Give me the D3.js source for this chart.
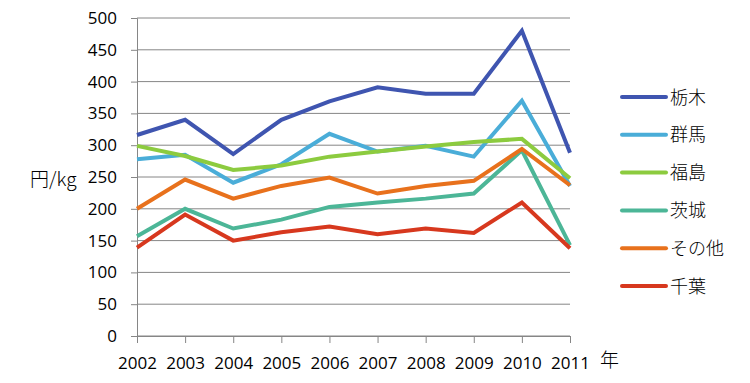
<!DOCTYPE html>
<html>
<head>
<meta charset="utf-8">
<script src="https://cdn.jsdelivr.net/npm/d3@7"></script>
<style>
  body { margin: 0; background: #fff; }
  text { font-family: "Open Sans", sans-serif; fill: #000; }
  .jp { font-family: "Noto Sans CJK JP", sans-serif; font-weight: 300; }
</style>
</head>
<body>
<div id="chart"></div>
<script>
const years = [2002, 2003, 2004, 2005, 2006, 2007, 2008, 2009, 2010, 2011];
const names = ["栃木", "群馬", "福島", "茨城", "その他", "千葉"];
const colors = ["#3F55B0", "#4AADD8", "#8CCB3F", "#4CB697", "#E8711C", "#D7381E"];
const tochigi = [316, 340, 286, 340, 369, 391, 381, 381, 480, 288];
const gunma = [278, 285, 241, 270, 318, 290, 299, 282, 370, 236];
const fukushima = [299, 283, 261, 268, 282, 290, 298, 305, 310, 248];
const ibaraki = [157, 200, 169, 183, 203, 210, 216, 224, 292, 143];
const sonota = [200, 246, 216, 236, 249, 224, 236, 244, 294, 237];
const chiba = [139, 191, 150, 163, 172, 160, 169, 162, 210, 138];
const yTicks = [0, 50, 100, 150, 200, 250, 300, 350, 400, 450, 500];

const series = [tochigi, gunma, fukushima, ibaraki, sonota, chiba];

const w = 750, h = 383;
const margin = { top: 18, right: 180, bottom: 47, left: 137 };

const svg = d3.select("#chart").append("svg")
    .attr("width", w)
    .attr("height", h);

const x = d3.scaleLinear()
    .domain([2002, 2011])
    .range([margin.left, w - margin.right]);

const y = d3.scaleLinear()
    .domain([0, 500])
    .range([h - margin.bottom, margin.top]);

// gridlines
svg.append("g")
    .selectAll("line")
    .data(yTicks)
    .enter().append("line")
    .attr("x1", margin.left)
    .attr("x2", w - margin.right)
    .attr("y1", d => y(d))
    .attr("y2", d => y(d))
    .attr("stroke", "#868686")
    .attr("stroke-width", 1);

// y axis
const yAxis = svg.append("g")
    .attr("transform", `translate(${margin.left},0)`)
    .call(d3.axisLeft(y).tickValues(yTicks).tickSize(6).tickPadding(14));
yAxis.select(".domain").attr("stroke", "#868686");
yAxis.selectAll("line").attr("stroke", "#868686");
yAxis.selectAll("text").style("font-size", "17px").attr("font-family", null);

// x axis
const xAxis = svg.append("g")
    .attr("transform", `translate(0,${y(0)})`)
    .call(d3.axisBottom(x).tickValues(years).tickFormat(d3.format("d")).tickSize(7).tickPadding(14));
xAxis.select(".domain").attr("stroke", "#868686");
xAxis.selectAll("line").attr("stroke", "#868686");
xAxis.selectAll("text").style("font-size", "17px").attr("font-family", null);

// lines
const line = d3.line()
    .x((d, i) => x(years[i]))
    .y(d => y(d));

svg.append("g")
    .selectAll("path")
    .data(series)
    .enter().append("path")
    .attr("d", d => line(d))
    .attr("fill", "none")
    .attr("stroke", (d, i) => colors[i])
    .attr("stroke-width", 4)
    .attr("stroke-linejoin", "miter");

// axis titles
svg.append("text")
    .attr("class", "jp")
    .attr("x", 30)
    .attr("y", 186)
    .style("font-size", "19px")
    .text("円/kg");

svg.append("text")
    .attr("class", "jp")
    .attr("x", 600)
    .attr("y", 367)
    .style("font-size", "19px")
    .text("年");

// legend
const legend = svg.append("g")
    .selectAll("g")
    .data(names)
    .enter().append("g")
    .attr("transform", (d, i) => `translate(622,${97 + i * 37.8})`);

legend.append("line")
    .attr("x1", 0)
    .attr("x2", 44)
    .attr("stroke", (d, i) => colors[i])
    .attr("stroke-width", 4)
    .attr("stroke-linecap", "round");

legend.append("text")
    .attr("class", "jp")
    .attr("x", 48)
    .attr("y", 6.5)
    .style("font-size", "18px")
    .text(d => d);
</script>
</body>
</html>
